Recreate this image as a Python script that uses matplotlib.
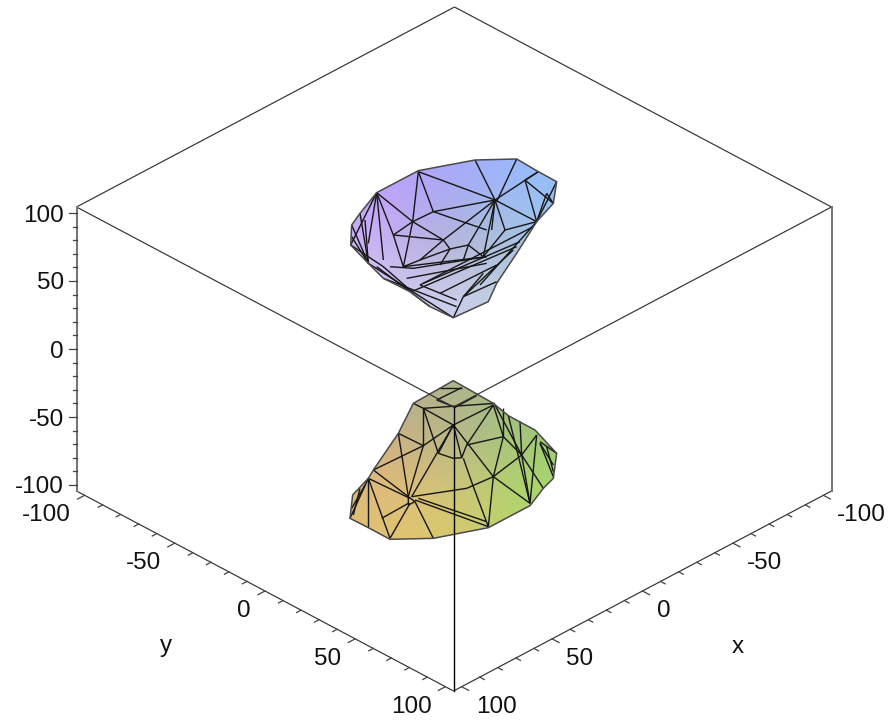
import numpy as np
import matplotlib
matplotlib.use("Agg")
import matplotlib.pyplot as plt
from matplotlib.patches import Polygon
from matplotlib.collections import LineCollection

plt.rcParams['font.family'] = ['Liberation Sans', 'DejaVu Sans']

# ---------- data ----------
tick_values = list(range(-100, 101, 10))
major_values = [-100, -50, 0, 50, 100]
box_half = 104.5

# surface meshes (crop pixels, 3x zoom)
upper_outline = [(340,503),(445,455),(470,400),(530,310),(590,215),(640,160),(650,95),(595,65),
                 (530,27),(405,30),(235,62),(110,128),(60,190),(35,225),(32,285),(85,340),
                 (130,385),(210,425),(270,470)]
upper_edges = [
    [(235,65),(465,150)], [(110,128),(218,215),(280,185),(465,150)], [(235,65),(218,215)],
    [(235,65),(280,185)], [(405,30),(465,150)], [(530,27),(470,155)], [(465,150),(595,65)],
    [(465,150),(590,215)], [(595,65),(555,90),(590,215)], [(555,90),(640,160)], [(465,150),(495,240),(590,215)],
    [(465,150),(455,240)], [(280,185),(440,240)], [(218,215),(310,270)], [(218,215),(160,255)],
    [(218,215),(190,350)], [(160,255),(310,270)], [(110,128),(160,255)], [(110,128),(130,330)],
    [(110,128),(85,280)], [(75,210),(85,340)], [(60,190),(85,340)], [(35,225),(85,340)],
    [(465,150),(310,270)], [(465,150),(385,285)], [(465,150),(430,320)], [(495,240),(430,320)],
    [(310,270),(330,297),(385,285),(430,320)], [(160,255),(190,350)], [(310,270),(240,330)],
    [(190,350),(240,330),(330,297)], [(190,350),(440,320)], [(330,297),(300,345)], [(385,285),(370,330)],
    [(150,350),(220,355),(440,320)], [(240,405),(580,230)], [(215,425),(530,290)], [(250,400),(540,275)],
    [(200,385),(440,340)], [(370,440),(470,395)], [(340,503),(370,440),(430,370)], [(370,440),(520,300)],
    [(130,385),(350,470)], [(85,340),(340,503)], [(110,350),(270,470)], [(240,405),(350,450)],
    [(420,405),(590,215)], [(300,430),(470,345)], [(32,285),(130,350),(210,420)], [(590,215),(650,95)],
    [(620,130),(640,160)], [(590,215),(620,130)], [(35,260),(85,340)], [(32,285),(110,128)],
]
lower_outline = [(340,17),(460,85),(505,122),(585,165),(650,235),(640,310),(610,340),(570,392),
                 (445,458),(280,490),(150,493),(85,458),(30,430),(38,360),(85,310),(100,285),
                 (175,175),(220,85)]
lower_edges = [
    [(220,85),(250,100),(465,85)], [(250,100),(340,150),(460,90)], [(300,38),(365,38)],
    [(365,38),(290,75)], [(290,75),(345,97),(410,62)], [(250,100),(295,235)],
    [(175,175),(250,212),(340,150)], [(250,212),(250,100)], [(175,175),(205,365)],
    [(250,212),(100,285)], [(250,212),(205,365)], [(295,235),(340,150)], [(340,150),(365,248)],
    [(340,150),(460,305)], [(340,150),(215,365)], [(295,235),(340,250),(365,248),(380,210),(490,185)],
    [(380,210),(460,90)], [(460,90),(490,185)], [(465,90),(545,240)], [(490,100),(490,185)],
    [(490,185),(460,305)], [(490,185),(545,240)], [(505,122),(570,385)], [(540,140),(545,240)],
    [(590,180),(545,240)], [(545,240),(570,385)], [(545,240),(460,305)], [(460,305),(445,455)],
    [(460,305),(570,385)], [(460,305),(380,340),(215,365)], [(370,250),(400,335),(445,455)],
    [(100,285),(205,365)], [(85,310),(210,370)], [(85,310),(85,455)], [(85,310),(30,430)],
    [(60,340),(40,420)], [(210,385),(150,490)], [(205,385),(125,430)], [(85,310),(150,490)],
    [(225,380),(280,490)], [(225,375),(445,455)], [(235,370),(440,440)], [(570,385),(590,180)],
    [(600,205),(640,305)], [(600,205),(640,270)], [(600,200),(650,235)], [(545,240),(610,340)],
    [(205,365),(205,390),(225,380),(205,365)], [(75,330),(35,400)], [(620,215),(640,290)],
]

# colours of each surface, sampled on a coarse grid (rows top to bottom)
upper_colors = [
    [(190,160,250),(175,165,250),(165,175,250),(150,190,250)],
    [(200,170,250),(178,172,232),(168,185,222),(158,195,238)],
    [(205,185,245),(190,182,218),(182,190,213),(172,200,222)],
    [(210,205,245),(205,205,238),(200,210,232),(178,205,218)],
]
lower_colors = [
    [(185,178,135),(182,178,142),(172,185,140),(152,190,125)],
    [(212,178,130),(192,178,135),(178,190,135),(158,203,118)],
    [(224,183,125),(214,192,125),(192,198,122),(168,213,110)],
    [(224,192,118),(222,200,112),(204,204,110),(172,218,104)],
]

z_label_y = [487, 420, 352, 283, 216]

# ---------- helpers ----------
def project(x, y, z):
    span = 2 * box_half
    sx = 453.5 + (box_half - x) * 378 / span - (box_half - y) * 377 / span
    sy = 691 - (box_half - x) * 200 / span - (box_half - y) * 200 / span - (z + box_half) * 284 / span
    return sx, sy

def crop(points):
    return [(340 + px / 3, 150 + py / 3) for px, py in points]

def crop2(points):
    return [(340 + px / 3, 375 + py / 3) for px, py in points]

# ---------- figure ----------
fig = plt.figure(figsize=(8.92, 7.21), dpi=100, facecolor='white')
ax = fig.add_axes([0, 0, 1, 1])
ax.set_xlim(0, 892)
ax.set_ylim(721, 0)
ax.axis('off')

def surface(outline, edges, colors, conv):
    poly = np.array(conv(outline))
    x0, y0 = poly.min(axis=0)
    x1, y1 = poly.max(axis=0)
    im = ax.imshow(np.array(colors, dtype=np.uint8), extent=(x0, x1, y1, y0),
                   interpolation='bicubic', aspect='auto', zorder=2)
    patch = Polygon(poly, closed=True, transform=ax.transData, fc='none', ec='none')
    ax.add_patch(patch)
    im.set_clip_path(patch)
    ax.add_collection(LineCollection([conv(e) for e in edges], colors='#161616',
                                     linewidths=1.0, zorder=3))
    ax.add_patch(Polygon(poly, closed=True, fc='none', ec='#4a4a4a', lw=1.1, zorder=3))

surface(upper_outline, upper_edges, upper_colors, crop)
surface(lower_outline, lower_edges, lower_colors, crop2)
ax.set_xlim(0, 892)
ax.set_ylim(721, 0)

# box
L = box_half
box_edges = [
    [(L, -L, L), (-L, -L, L)], [(-L, -L, L), (-L, L, L)], [(-L, L, L), (L, L, L)], [(L, L, L), (L, -L, L)],
    [(L, -L, -L), (L, L, -L)], [(L, L, -L), (-L, L, -L)],
]
for a, b in box_edges:
    pa, pb = project(*a), project(*b)
    ax.plot([pa[0], pb[0]], [pa[1], pb[1]], color='#333333', lw=0.85, zorder=4, solid_capstyle='butt')
pa, pb = project(L, L, L), project(L, L, -L)
ax.plot([pa[0], pb[0]], [pa[1], pb[1]], color='#000000', lw=1.0, zorder=4)
pa, pb = project(L, -L, L), project(L, -L, -L)
ax.plot([pa[0], pb[0]], [pa[1], pb[1]], color='#777777', lw=1.5, zorder=4)
pa, pb = project(-L, L, L), project(-L, L, -L)
ax.plot([pa[0], pb[0]], [pa[1], pb[1]], color='#777777', lw=1.5, zorder=4)

tick_kw = dict(color='#444444', lw=0.9, zorder=4)
text_kw = dict(fontsize=17.5, color='#111111', zorder=5)

for v in tick_values:
    big = v in major_values
    # z axis, left edge
    sx, sy = project(L, -L, v)
    n = 7.5 if big else 4
    ax.plot([sx - n, sx], [sy, sy], **tick_kw)
    # y axis, lower left edge
    sx, sy = project(L, v, -L)
    n = 7 if big else 4.5
    ax.plot([sx, sx - n], [sy, sy + n * 0.53], **tick_kw)
    if big:
        ax.text(sx - 14, sy + 20, str(v), ha='right', va='center', **text_kw)
    # x axis, lower right edge
    sx, sy = project(v, L, -L)
    ax.plot([sx, sx + n], [sy, sy + n * 0.53], **tick_kw)
    if big:
        ax.text(sx + 14, sy + 20, str(v), ha='left', va='center', **text_kw)

for v, ly in zip(major_values, z_label_y):
    ax.text(64, ly, str(v), ha='right', va='center', **text_kw)

ax.text(166, 646, 'y', ha='center', va='center', **text_kw)
ax.text(738, 647, 'x', ha='center', va='center', **text_kw)

fig.savefig('out.png', dpi=100, facecolor='white')
